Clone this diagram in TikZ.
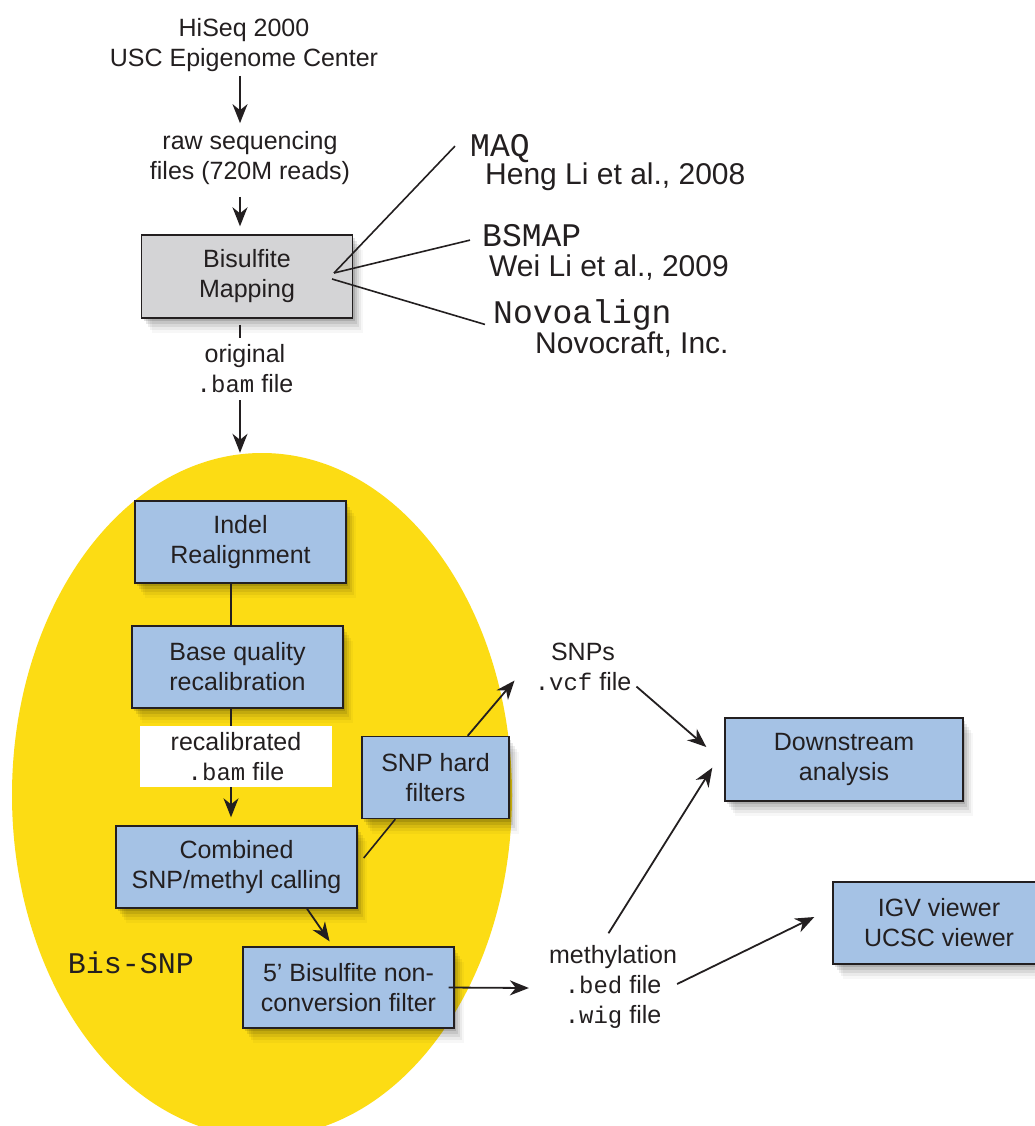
\documentclass[tikz,border=0pt]{standalone}
\usepackage{fontspec}
\setmainfont{Liberation Sans}
\setmonofont{Liberation Mono}
\usetikzlibrary{arrows.meta,shapes.geometric,shadows,calc}
\definecolor{ink}{HTML}{231F20}
\definecolor{bisyellow}{HTML}{FCDC14}
\definecolor{boxblue}{HTML}{A5C2E5}
\definecolor{boxgray}{HTML}{D4D4D6}
\newcommand\mytt[1]{{\fontsize{24}{30}\ttfamily #1}}
\begin{document}
\begin{tikzpicture}[x=1pt,y=-1pt,
  every node/.style={text=ink},
  lbl/.style={font=\fontsize{25}{30}\selectfont, align=center, inner sep=0pt},
  refname/.style={font=\fontsize{30}{36}\selectfont, inner sep=0pt, anchor=base west},
  toolname/.style={font=\fontsize{33}{36}\ttfamily, inner sep=0pt, anchor=base west},
  softshadow/.style={
    drop shadow={fill=black, opacity=0.12, shadow xshift=2pt, shadow yshift=-3pt},
    drop shadow={fill=black, opacity=0.09, shadow xshift=4pt, shadow yshift=-6pt},
    drop shadow={fill=black, opacity=0.07, shadow xshift=6pt, shadow yshift=-9pt},
    drop shadow={fill=black, opacity=0.05, shadow xshift=8pt, shadow yshift=-12pt},
    drop shadow={fill=black, opacity=0.03, shadow xshift=10pt, shadow yshift=-15pt}},
  proc/.style={softshadow, draw=ink, line width=1.4pt, fill=boxblue, align=center,
    font=\fontsize{25}{30}\selectfont, inner sep=0pt},
  filelbl/.style={lbl, fill=white},
  arr/.style={draw=ink, line width=1.8pt, -{Stealth[length=19pt,width=15pt,inset=6pt]}},
  ln/.style={draw=ink, line width=1.6pt},
]
\useasboundingbox (0,0) rectangle (1034,1126);
\fill[white] (0,0) rectangle (1034,1126);

% Bis-SNP ellipse
\node[ellipse, fill=bisyellow, minimum width=500pt, minimum height=684pt, inner sep=0pt] (bis) at (262,795) {};

% column coordinates
\coordinate (colA) at (240,0);
\coordinate (colB) at (231,0);

% top part
\node[lbl] (top) at (244,45) {HiSeq 2000\\USC Epigenome Center};
\node[lbl] (raw) at (250,158) {raw sequencing\\files (720M reads)};
\node[proc, fill=boxgray, minimum width=211pt, minimum height=83pt] (map) at (247,276.5) {Bisulfite\\Mapping};
\node[filelbl, minimum width=190pt, minimum height=62pt] (orig) at (245,369) {original\\\mytt{.bam} file};

% mapping tools
\node[toolname] (maq) at (470,157) {MAQ};
\node[refname] (heng) at (485,185) {Heng Li et al., 2008};
\node[toolname] (bsmap) at (482,246) {BSMAP};
\node[refname] (weili) at (489,276) {Wei Li et al., 2009};
\node[toolname] (novo) at (493,323) {Novoalign};
\node[refname] (novocraft) at (535,353) {Novocraft, Inc.};
\coordinate (fanA) at (334,273);
\coordinate (fanB) at (332,279);
\draw[ln] (fanA) -- ($(maq.west)+(-15,-3)$);
\draw[ln] (fanA) -- ($(bsmap.west)+(-12,5)$);
\draw[ln] (fanB) -- ($(novo.west)+(-8,10)$);

\draw[arr, shorten <=4pt, shorten >=8pt] (top.south -| colA) -- (raw.north -| colA);
\draw[arr, shorten <=12pt, shorten >=8pt] (raw.south -| colA) -- (map.north -| colA);
\draw[ln, shorten <=6pt] (map.south -| colA) -- (orig.north -| colA);
\draw[arr] (orig.south -| colA) -- (colA |- bis.north);

% Bis-SNP internals
\node[proc, minimum width=211pt, minimum height=82pt] (indel) at (240.5,542) {Indel\\Realignment};
\node[proc, minimum width=211pt, minimum height=82pt] (base) at (237.5,667) {Base quality\\recalibration};
\node[filelbl, minimum width=192pt, minimum height=61pt] (recal) at (236,756.5) {recalibrated\\\mytt{.bam} file};
\node[proc, minimum width=241pt, minimum height=82pt] (comb) at (236.5,867) {Combined\\SNP/methyl calling};
\node[proc, minimum width=147pt, minimum height=82pt] (snph) at (435.5,777.5) {SNP hard\\filters};
\node[proc, minimum width=211pt, minimum height=81pt] (fivep) at (348.5,987.5) {5’ Bisulfite non-\\conversion filter};
\node[font=\fontsize{30}{36}\ttfamily, inner sep=0pt] (bisname) at (131,963) {Bis-SNP};

\draw[ln] (indel.south -| colB) -- (base.north -| colB);
\draw[ln] (base.south -| colB) -- (recal.north -| colB);
\draw[arr, shorten >=8pt] (recal.south -| colB) -- (comb.north -| colB);
\draw[ln] ($(comb.east)+(6,-9)$) -- ($(snph.south west)+(34,0)$);
\draw[arr, shorten >=6pt] ($(comb.south)+(70.5,0)$) -- ($(fivep.north)+(-15.5,0)$);

% outputs
\node[lbl] (snps) at (583,666.5) {SNPs\\\mytt{.vcf} file};
\node[lbl] (meth) at (613,987) {methylation\\\mytt{.bed} file\\\mytt{.wig} file};
\node[proc, minimum width=238pt, minimum height=83pt] (down) at (844,759.5) {Downstream\\analysis};
\node[proc, minimum width=212pt, minimum height=82pt] (igv) at (939,923) {IGV viewer\\UCSC viewer};

\draw[arr] ($(snph.north east)+(-42,0)$) -- ($(snps.south west)+(-20,-10)$);
\draw[arr] ($(snps.south east)+(5,-4)$) -- ($(down.west)+(-18,-12.5)$);
\draw[arr] ($(fivep.east)+(-6,0)$) -- ($(meth.west)+(-20,1)$);
\draw[arr] ($(meth.north)+(-4.5,-12)$) -- ($(down.south west)+(-12,-34)$);
\draw[arr] ($(meth.east)+(0,-3)$) -- ($(igv.west)+(-18,-6)$);
\end{tikzpicture}
\end{document}
